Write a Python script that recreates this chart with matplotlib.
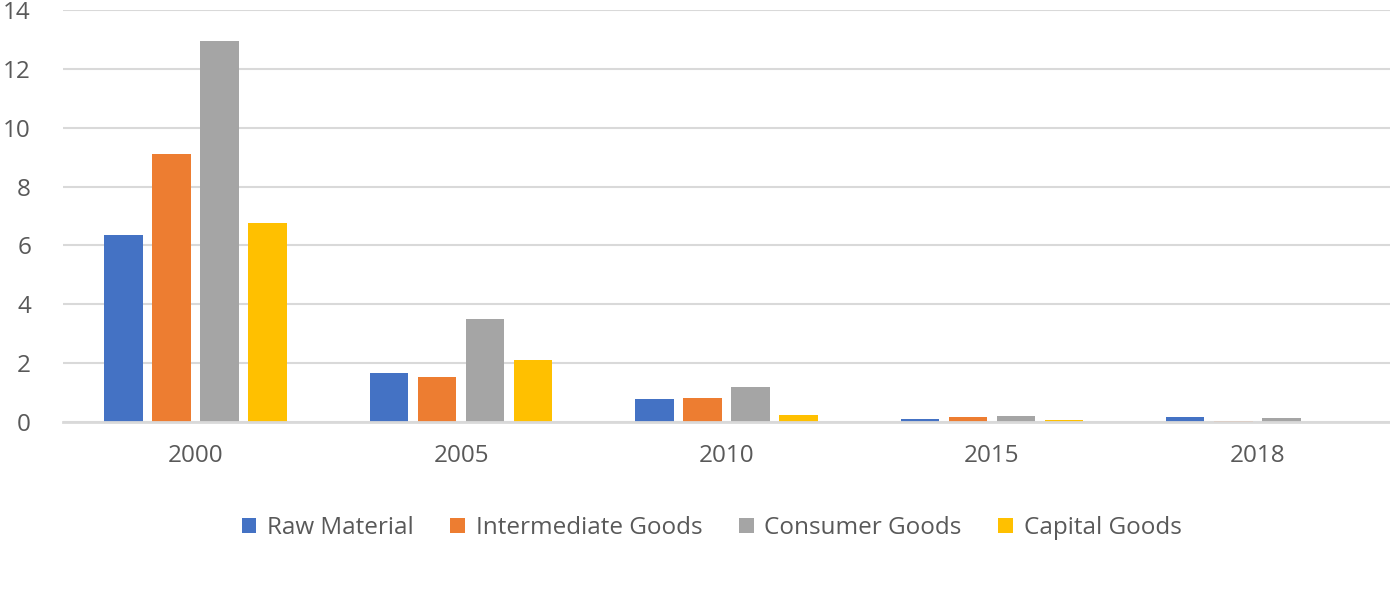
import numpy as np
import matplotlib.pyplot as plt

plt.rcParams['font.family'] = ['Open Sans', 'DejaVu Sans']

# Data
years = ['2000', '2005', '2010', '2015', '2018']
raw_material = [6.35, 1.66, 0.78, 0.10, 0.16]
intermediate_goods = [9.1, 1.53, 0.82, 0.17, 0.02]
consumer_goods = [12.95, 3.5, 1.19, 0.20, 0.13]
capital_goods = [6.76, 2.1, 0.24, 0.07, 0.0]

series = [
    ('Raw Material', raw_material, '#4472C4'),
    ('Intermediate Goods', intermediate_goods, '#ED7D31'),
    ('Consumer Goods', consumer_goods, '#A5A5A5'),
    ('Capital Goods', capital_goods, '#FFC000'),
]

fig = plt.figure(figsize=(13.9, 6.07), dpi=100)
ax = fig.add_axes([0.0453, 0.3048, 0.9547, 0.6787])

x = np.arange(len(years))
step = 0.181
width = 0.145
for i, (name, vals, color) in enumerate(series):
    ax.bar(x + (i - 1.5) * step, vals, width, color=color, label=name, zorder=3)

ax.set_xlim(-0.5, len(years) - 0.5)
ax.set_ylim(0, 14)
ax.set_yticks(range(0, 15, 2))
ax.set_xticks(x)
ax.set_xticklabels(years)
ax.grid(axis='y', color='#D9D9D9', linewidth=1.5, zorder=0)
for s in ['top', 'right', 'left']:
    ax.spines[s].set_visible(False)
ax.spines['bottom'].set_color('#D9D9D9')
ax.spines['bottom'].set_linewidth(2)
ax.spines['bottom'].set_zorder(4)
ax.tick_params(axis='both', length=0, labelsize=17.5, colors='#595959')
ax.tick_params(axis='x', pad=16)
ax.tick_params(axis='y', pad=23)

leg = fig.legend(loc='center', bbox_to_anchor=(0.512, 0.13), ncol=4,
                 frameon=False, fontsize=17.5, handlelength=0.6,
                 handleheight=0.6, handletextpad=0.45, columnspacing=1.5)
for t in leg.get_texts():
    t.set_color('#595959')

fig.savefig('out.png', dpi=100)
